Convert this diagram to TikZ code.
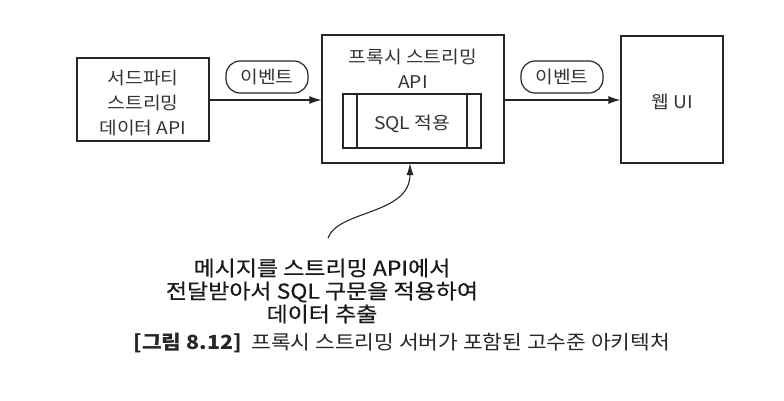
\documentclass[tikz,border=0pt]{standalone}
\usepackage{fontspec}
\setmainfont{Noto Sans CJK KR}[FakeStretch=1.1]
\newfontfamily\notefont[FakeBold=0.5,FakeStretch=1.12]{Noto Sans CJK KR}
\usetikzlibrary{arrows.meta}
\begin{document}
\begin{tikzpicture}[x=1pt,y=-1pt,
  box/.style={draw=black!85,line width=1.2pt,inner sep=0pt},
  pill/.style={draw=black!85,line width=1.2pt,rounded corners=14pt,minimum width=82pt,minimum height=32pt,inner sep=0pt},
  lbl/.style={font=\fontsize{17.5}{25}\selectfont,text=black!80,align=center},
  conn/.style={draw=black!85,line width=1.2pt,-{Latex[length=12pt,width=8pt]}},
  note/.style={font=\notefont\fontsize{20.5}{23}\selectfont,text=black!90,align=center}]
\useasboundingbox[fill=white] (0,0) rectangle (784,400);
% left box
\node[box,minimum width=132pt,minimum height=83pt] (src) at (143,99.5) {};
\node[lbl] (srct) at (143,103) {서드파티\\스트리밍\\데이터 API};
% proxy box
\node[box,minimum width=182pt,minimum height=128pt] (proxy) at (413,99) {};
\node[lbl] (proxyt) at (413,69) {프록시 스트리밍\\API};
\node[box,minimum width=138pt,minimum height=54pt] (inner) at (412,121) {};
\draw[draw=black!85,line width=1.2pt] (357,94) -- (357,148) (467,94) -- (467,148);
\node[lbl] (sql) at (412,124) {SQL 적용};
% web ui box
\node[box,minimum width=102pt,minimum height=127pt] (web) at (672,99.5) {};
\node[lbl] (webt) at (672,102) {웹 UI};
% pills
\node[pill,lbl] (ev1) at (267,77) {이벤트};
\node[pill,lbl] (ev2) at (562,77) {이벤트};
% connectors
\draw[conn] (src.east |- 0,100) -- (proxy.west |- 0,100);
\draw[conn] (proxy.east |- 0,100) -- (web.west |- 0,100);
% annotation
\node[note] (note) at (322,291) {메시지를 스트리밍 API에서\\전달받아서 SQL 구문을 적용하여\\데이터 추출};
\coordinate (cs) at (328,238);
\coordinate (ce) at (410,163);
\draw[draw=black!85,line width=1.1pt,-{Latex[length=12pt,width=7pt]}] (cs) .. controls (338,210) and (410,215) .. (ce);
% caption
\node[font=\fontsize{19.5}{24}\selectfont,text=black!85,anchor=west] (cap) at (130,343) {\textbf{[그림 8.12]}\ \ 프록시 스트리밍 서버가 포함된 고수준 아키텍처};
\end{tikzpicture}
\end{document}
